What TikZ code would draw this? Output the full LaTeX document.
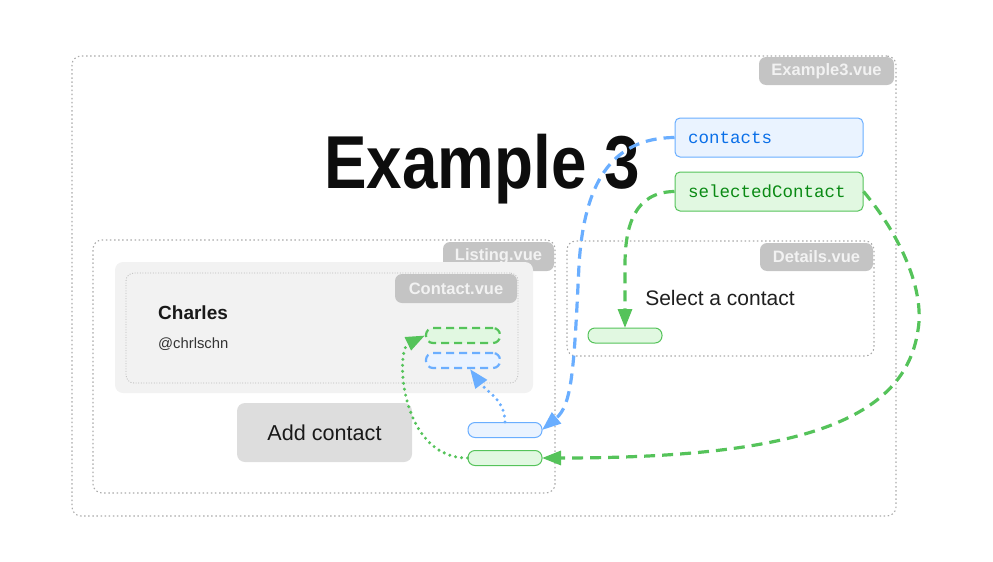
\documentclass[tikz,border=0pt]{standalone}
\usepackage{fontspec}
\setmainfont{Liberation Sans}
\setmonofont{Liberation Mono}
\usetikzlibrary{arrows.meta}
\definecolor{dotgray}{HTML}{ABABAB}
\definecolor{lblfill}{HTML}{C4C4C4}
\definecolor{lbltext}{HTML}{F2F2F2}
\definecolor{bluestroke}{HTML}{6AAEFF}
\definecolor{bluefill}{HTML}{EAF3FF}
\definecolor{bluetext}{HTML}{0A6FE8}
\definecolor{greenstroke}{HTML}{55C35A}
\definecolor{greenfill}{HTML}{E1F8E1}
\definecolor{greentext}{HTML}{0A8A14}
\definecolor{cardfill}{HTML}{F2F2F2}
\definecolor{btnfill}{HTML}{DDDDDD}
\tikzset{
  compbox/.style={draw=dotgray, line width=1.1pt, dash pattern=on 1.5pt off 2.6pt, rounded corners=9pt, inner sep=0pt},
  complabel/.style={fill=lblfill, text=lbltext, rounded corners=7pt, inner sep=0pt, font=\fontsize{16.5}{16.5}\selectfont\bfseries},
  statebox/.style={rounded corners=5pt, line width=1pt, minimum width=188pt, minimum height=39pt, inner sep=0pt, text width=162pt, align=left, font=\fontsize{17.5}{17.5}\selectfont\ttfamily},
  pill/.style={rounded corners=7pt, minimum width=74pt, minimum height=15pt, inner sep=0pt, line width=1pt},
  dpill/.style={pill, line width=2.2pt, dash pattern=on 8pt off 5pt},
  conn/.style={line width=3.2pt, dash pattern=on 11pt off 7pt, -{Triangle[length=19pt,width=14pt]}},
  dotconn/.style={line width=3.4pt, line cap=round, dash pattern=on 0pt off 6pt, -{Triangle[length=19pt,width=14pt]}},
}
\begin{document}
\begin{tikzpicture}[x=1pt,y=-1pt]
\useasboundingbox (0,0) rectangle (993,562);
% outer component
\node[compbox, minimum width=824pt, minimum height=460pt] (outer) at (484,286) {};
\node[complabel, minimum width=135pt, minimum height=28pt] (outerlbl) at (826.5,71) {Example3.vue};
% title
\node[anchor=base, inner sep=0pt, text=black!95] (title) at (482,188) {\scalebox{0.85}[1]{\fontsize{75}{75}\selectfont\bfseries Example 3}};
% listing
\node[compbox, minimum width=462pt, minimum height=253pt] (listing) at (324,366.5) {};
\node[complabel, minimum width=111pt, minimum height=29pt] (listinglbl) at (498.5,256.5) {Listing.vue};
% contact card
\node[fill=cardfill, rounded corners=8pt, minimum width=418pt, minimum height=131pt, inner sep=0pt] (card) at (324,327.5) {};
\node[draw=dotgray!80, line width=0.8pt, dash pattern=on 1pt off 1.6pt, rounded corners=8pt, minimum width=392pt, minimum height=110pt, inner sep=0pt] (contact) at (322,328) {};
\node[complabel, minimum width=122pt, minimum height=29pt] (contactlbl) at (456,288.5) {Contact.vue};
\node[anchor=west, inner sep=0pt, font=\fontsize{19}{19}\selectfont\bfseries, text=black!90] (charles) at (158,313) {Charles};
\node[anchor=west, inner sep=0pt, font=\fontsize{14.8}{14.8}\selectfont, text=black!80] (handle) at (158,344) {@chrlschn};
\node[dpill, draw=greenstroke, fill=greenfill] (gdash) at (463,335.5) {};
\node[dpill, draw=bluestroke, fill=bluefill] (bdash) at (463,360.5) {};
% add contact button
\node[fill=btnfill, rounded corners=8pt, minimum width=175pt, minimum height=59pt, inner sep=0pt, font=\fontsize{21.6}{21.6}\selectfont, text=black!90] (addbtn) at (324.5,432.5) {Add contact};
% details
\node[compbox, minimum width=307pt, minimum height=115pt] (details) at (720.5,298.5) {};
\node[complabel, minimum width=113pt, minimum height=28pt] (detailslbl) at (816.5,257) {Details.vue};
\node[inner sep=0pt, font=\fontsize{21}{21}\selectfont, text=black!88] (selecttxt) at (720,298) {Select a contact};
% state boxes
\node[statebox, draw=bluestroke, fill=bluefill, text=bluetext] (contacts) at (769,137.5) {contacts};
\node[statebox, draw=greenstroke, fill=greenfill, text=greentext] (selected) at (769,191.5) {selectedContact};
% connectors
\draw[conn, bluestroke] (contacts.west) .. controls (610,138) and (584,185) .. (579,265) .. controls (574,370) and (572,405) .. (542,430);
\draw[conn, greenstroke] (selected.west) .. controls (635,192) and (625,225) .. (625,265) -- (625,328);
\draw[conn, greenstroke] (selected.east) .. controls (900,235) and (925,290) .. (918,330) .. controls (905,420) and (800,458) .. (542,458);
% pills in listing
\node[pill, draw=bluestroke, fill=bluefill] (bpill) at (505,430) {};
\node[pill, draw=greenstroke, fill=greenfill] (gpill) at (505,458) {};
\node[pill, draw=greenstroke, fill=greenfill] (dpillnode) at (625,335.5) {};
\draw[dotconn, bluestroke] (bpill.north) .. controls (505,400) and (487,392) .. ([xshift=7pt]bdash.south);
\draw[dotconn, greenstroke] (gpill.west) .. controls (400,458) and (395,350) .. (gdash.west);
\end{tikzpicture}
\end{document}
